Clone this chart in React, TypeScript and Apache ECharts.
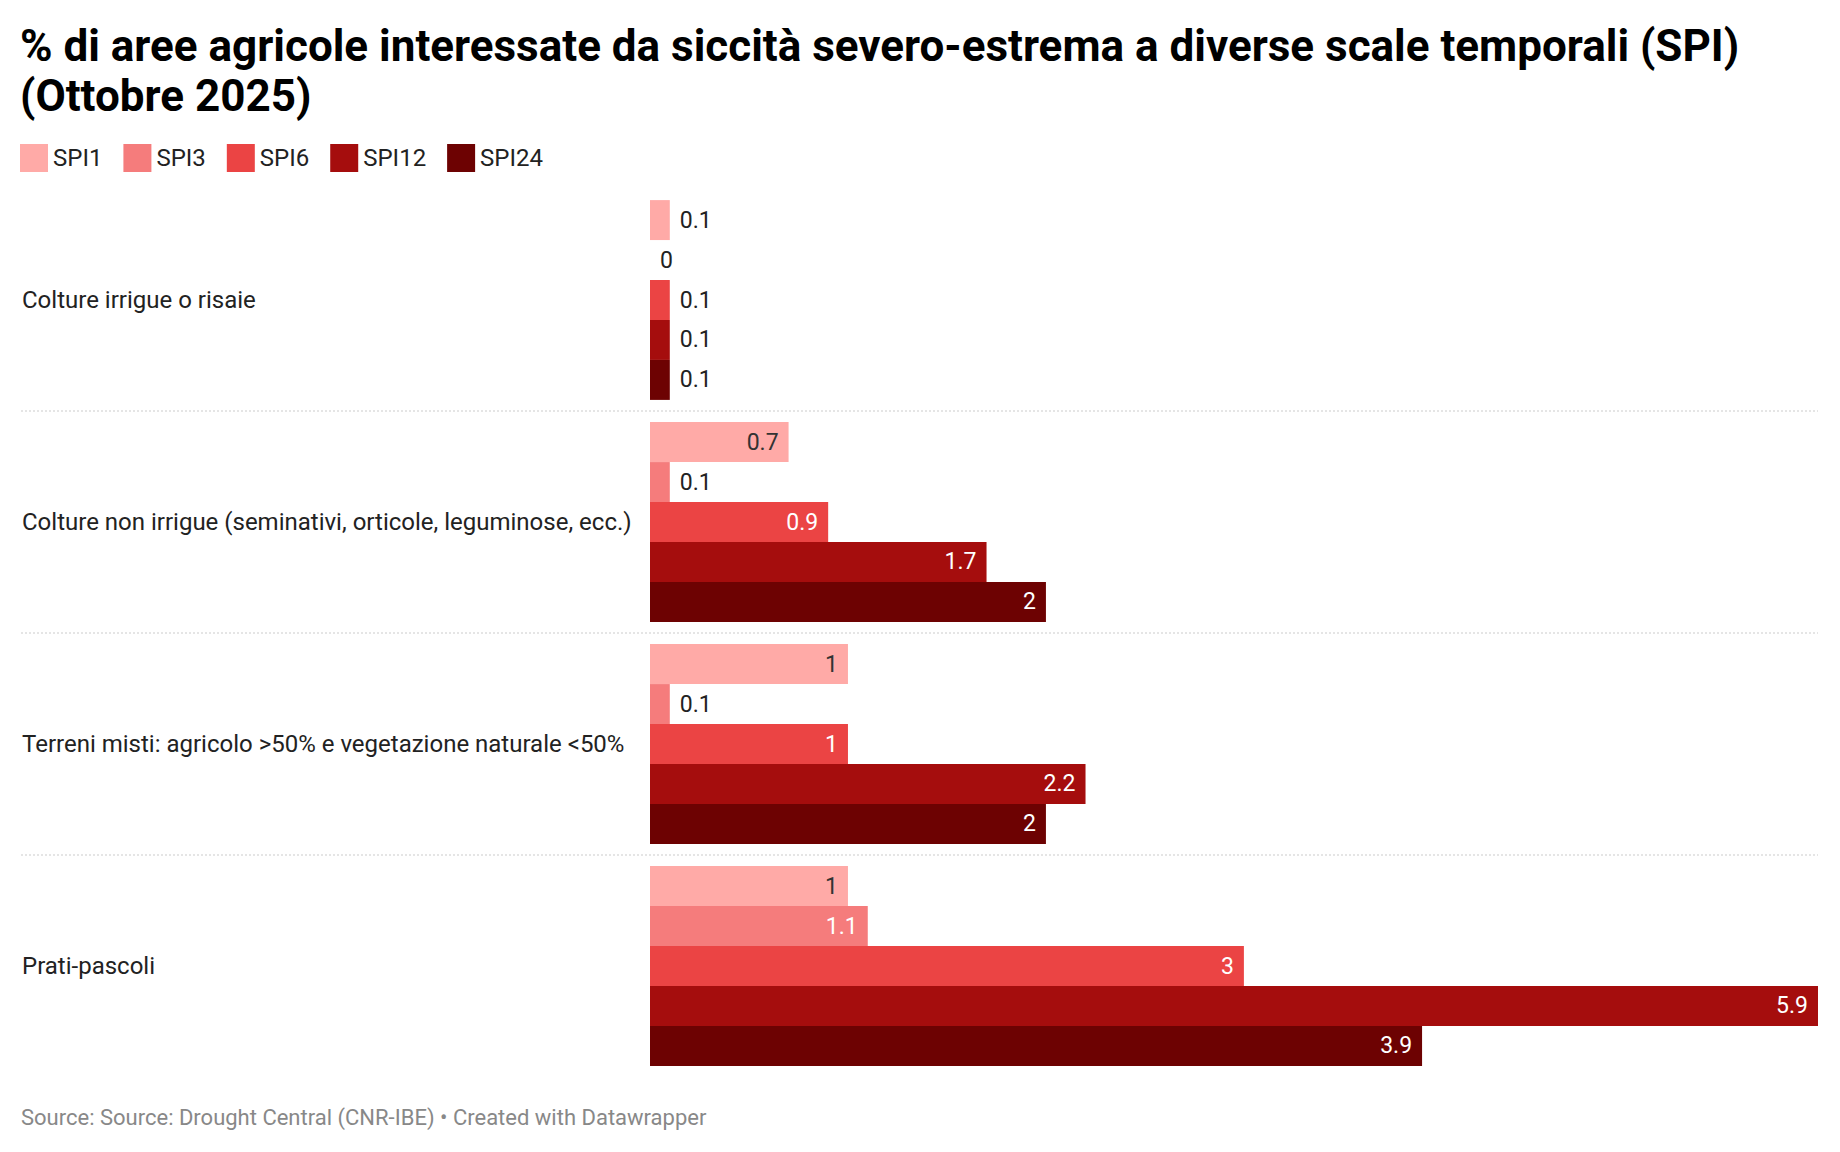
import React, { useEffect, useRef } from "react";
import * as echarts from "echarts";

const categories = [
  "Colture irrigue o risaie",
  "Colture non irrigue (seminativi, orticole, leguminose, ecc.)",
  "Terreni misti: agricolo >50% e vegetazione naturale <50%",
  "Prati-pascoli",
];
const seriesNames = ["SPI1", "SPI3", "SPI6", "SPI12", "SPI24"];
const spi1 = [0.1, 0.7, 1, 1];
const spi3 = [0, 0.1, 0.1, 1.1];
const spi6 = [0.1, 0.9, 1, 3];
const spi12 = [0.1, 1.7, 2.2, 5.9];
const spi24 = [0.1, 2, 2, 3.9];
const seriesValues = [spi1, spi3, spi6, spi12, spi24];
const colors = ["#ffaaa7", "#f57c7c", "#eb4444", "#a50d0d", "#6d0202"];
const insideLabelColors = ["#333333", "#ffffff", "#ffffff", "#ffffff", "#ffffff"];

const TITLE = "% di aree agricole interessate da siccità severo-estrema a diverse scale temporali (SPI)\n(Ottobre 2025)";
const FOOTER = "Source: Source: Drought Central (CNR-IBE) • Created with Datawrapper";

const W = 1840;
const H = 1152;
const GRID_LEFT = 650;
const GRID_RIGHT = 22;
const GRID_TOP = 189;
const GRID_HEIGHT = 888;
const FONT = "Roboto, 'Noto Sans', sans-serif";

export default function App() {
  const ref = useRef<HTMLDivElement>(null);
  useEffect(() => {
    document.body.style.margin = "0";
    if (!ref.current) return;
    const chart = echarts.init(ref.current, null, { renderer: "svg" });
    const band = GRID_HEIGHT / categories.length;
    const separators = [];
    for (let i = 1; i < categories.length; i++) {
      const y = GRID_TOP + band * i;
      separators.push({
        type: "line",
        shape: { x1: 21, y1: y, x2: W - GRID_RIGHT, y2: y },
        style: { stroke: "#cccccc", lineWidth: 1.2, lineDash: [2, 2] },
        silent: true,
      });
    }
    const series = seriesNames.map((name, si) => ({
      name,
      type: "bar",
      barGap: "0%",
      barCategoryGap: "10%",
      itemStyle: { color: colors[si] },
      data: seriesValues[si].map((v) => {
        const outside = v < 0.3;
        return {
          value: v,
          label: {
            show: true,
            position: outside ? "right" : "insideRight",
            distance: 10,
            color: outside ? "#222222" : insideLabelColors[si],
            fontSize: 23,
            fontFamily: FONT,
            formatter: (p: any) => String(p.value),
          },
        };
      }),
    }));
    chart.setOption({
      animation: false,
      backgroundColor: "#ffffff",
      textStyle: { fontFamily: FONT },
      title: {
        text: TITLE,
        left: 20,
        top: 21,
        padding: 0,
        textStyle: {
          fontFamily: FONT,
          fontSize: 44,
          fontWeight: "bold",
          color: "#000000",
          lineHeight: 50,
        },
      },
      legend: {
        left: 20,
        top: 144,
        padding: 0,
        icon: "rect",
        itemWidth: 28,
        itemHeight: 28,
        itemGap: 21,
        selectedMode: false,
        data: seriesNames,
        textStyle: { fontFamily: FONT, fontSize: 24, color: "#222222" },
      },
      grid: {
        left: GRID_LEFT,
        right: GRID_RIGHT,
        top: GRID_TOP,
        height: GRID_HEIGHT,
        containLabel: false,
      },
      xAxis: {
        type: "value",
        min: 0,
        max: 5.9,
        show: false,
      },
      yAxis: {
        type: "category",
        data: categories,
        inverse: true,
        axisLine: { show: false },
        axisTick: { show: false },
        splitLine: { show: false },
        axisLabel: {
          align: "left",
          margin: GRID_LEFT - 22,
          fontSize: 24,
          fontFamily: FONT,
          color: "#222222",
        },
      },
      graphic: [
        ...separators,
        {
          type: "text",
          left: 21,
          top: 1106,
          style: { text: FOOTER, fontSize: 22, fontFamily: FONT, fill: "#888888" },
          silent: true,
        },
      ],
      series,
    });
    return () => chart.dispose();
  }, []);
  return <div ref={ref} style={{ width: W, height: H }} />;
}
